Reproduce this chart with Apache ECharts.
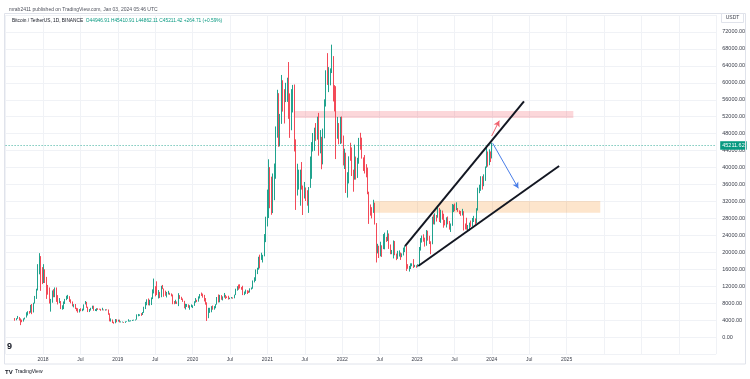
<!DOCTYPE html>
<html><head><meta charset="utf-8">
<script src="https://cdn.jsdelivr.net/npm/echarts@6/dist/echarts.min.js"></script>
<style>html,body{margin:0;padding:0;background:#fff}#c{width:750px;height:379px}</style>
</head><body><div id="c"></div>
<script>
// ---- DATA ----
const firstWeekStart = '2017-08-14';   // weekly candles, Monday starts
const firstOpen = 4261;
// each entry: [close, low, high]
const w2017 = [[4086,3850,4485],[4310,3950,4453],[4589,4300,4980],[4220,3900,4720],[3700,2817,4400],[3650,3500,4100],[4378,3650,4400],[4600,4150,4600],[5600,4600,5850],[6000,5100,6100],[5750,5500,6150],[7300,6000,7600],[5950,5400,7800],[8050,5800,8100],[9500,7900,9700],[11000,9000,11400],[15300,11000,17200],[19100,14800,19800],[13900,10900,19000],[13400,12500,16500]];
const w2018 = [[14000,12750,17200],[13600,12750,16000],[11500,9000,14200],[11450,10000,12300],[8200,7900,11700],[8500,6000,9000],[10600,8100,11000],[9600,9400,11300],[11500,9400,11700],[9100,8300,11700],[8200,7700,9900],[8500,8000,9200],[6900,6600,8500],[6900,6450,7500],[8000,6600,8400],[8900,7800,9000],[9350,8700,9750],[9600,9000,9950],[8700,8300,9650],[8250,7950,8900],[7350,7250,8400],[7500,7000,7750],[6700,6600,7800],[6450,6100,6900],[6050,5750,6800],[6600,5800,6600],[6350,6100,6800],[6350,6100,6700],[7700,6300,7700],[8200,7700,8500],[7000,6900,8300],[6300,5900,7150],[6400,5900,6600],[6700,6250,6900],[7300,6650,7400],[6300,6200,7400],[6500,6150,6600],[6700,6100,6800],[6600,6400,6800],[6550,6450,6700],[6300,6200,6650],[6450,6300,6900],[6350,6300,6500],[6450,6250,6550],[6350,6300,6550],[5550,5250,6500],[3800,3700,5600],[4100,3650,4400],[3550,3300,4150],[3250,3150,3600],[4000,3250,4250],[3750,3500,4200],[4000,3650,4100]];
const w2019 = [[3500,3450,4100],[3550,3450,3700],[3550,3450,3650],[3450,3350,3550],[3600,3350,3700],[3650,3550,3700],[3850,3650,4200],[3850,3650,3900],[3950,3700,3950],[4000,3800,4050],[4000,3900,4100],[4150,3900,4150],[5100,4100,5350],[5100,4900,5450],[5300,5000,5350],[5200,5000,5650],[5700,5200,5900],[6950,5700,7150],[8200,6600,8300],[8750,7500,8900],[8050,7500,9100],[8700,7450,8800],[8950,7550,9350],[10800,8950,11250],[11850,10300,13800],[11450,9600,12000],[10200,9900,13150],[10600,9100,11100],[9500,9200,10650],[11850,9400,12100],[11350,11300,12300],[10300,9500,11450],[10150,9750,10950],[10400,9350,10650],[10400,10050,10900],[10300,9950,10450],[9990,9600,10300],[8050,7750,10050],[7880,7750,8500],[8300,7850,8800],[8230,7800,8400],[9550,7300,10350],[9200,9000,9900],[8800,8750,9500],[8500,8300,9100],[7050,6800,8550],[7500,6500,7850],[7500,7100,7800],[7080,6900,7700],[7180,6450,7500],[7250,7050,7700],[7350,6850,7500]];
const w2020 = [[8180,7700,8450],[8650,8100,9200],[8350,8250,8800],[9350,8500,9600],[10150,9100,10150],[9900,9700,10500],[9650,9300,10250],[8550,8400,9950],[7950,7650,9200],[5350,3800,8200],[5800,4450,6900],[5900,5700,6900],[6850,5850,7300],[6650,6450,7450],[7150,6450,7300],[7700,6800,7750],[8900,7650,9450],[8700,8150,10050],[9680,8200,9950],[8900,8800,9900],[9450,8650,9600],[9750,9300,10400],[9350,9000,9950],[9300,9200,9600],[9050,8850,9750],[9100,8950,9300],[9250,9100,9450],[9200,9050,9350],[9950,9150,10000],[11100,9900,11400],[11900,10950,12000],[11800,11150,12400],[11650,11450,12450],[11600,11150,11800],[10300,9900,12100],[10700,9900,10750],[11050,10200,11200],[10750,10150,11050],[10650,10400,10950],[11400,10500,11500],[11500,11200,11700],[13050,11400,13350],[13750,12900,14100],[15500,13250,15950],[16050,14850,16350],[18700,15900,18950],[18200,16200,19450],[19150,18200,19900],[19250,17600,19400],[23850,19050,24300],[26450,22400,28400],[32200,26100,34800]];
const w2021 = [[38150,28100,41950],[36050,30400,40100],[32250,28850,37850],[33100,29250,38600],[38800,32300,40950],[48600,37350,49700],[57400,47050,58350],[45250,44900,57550],[51200,45000,52650],[59000,50300,61850],[57350,53200,60600],[55800,50400,58500],[57050,55450,60000],[60000,55500,61200],[56200,51500,64900],[49000,47000,57500],[56600,48800,58500],[58250,53000,59500],[46400,43800,59600],[34700,30000,46650],[35650,33400,40900],[35800,34800,39500],[39100,31000,39500],[35550,34800,41300],[34700,28800,35750],[35300,32700,36600],[34250,32100,35100],[31800,31000,34650],[35400,29300,35400],[39850,35200,42600],[43800,37350,46000],[47100,43800,48150],[49300,43950,49400],[48850,46300,50500],[51750,46600,52000],[46050,42800,52900],[47250,43350,48850],[43200,39600,45050],[48200,40750,49200],[54650,46900,56100],[61500,54400,62950],[60850,59500,67000],[61300,57800,63700],[63300,59400,63400],[65450,62300,69000],[58650,55600,66300],[57250,53250,59450],[49400,42000,59200],[50100,46800,51950],[46700,45500,50500],[50800,45550,51950],[47300,45700,52050]];
const w2022 = [[41850,40500,47550],[43100,39650,44450],[36250,34000,43500],[37900,32900,38900],[42400,36250,42650],[42200,41600,45850],[38400,38000,44750],[37700,34300,39500],[38400,37150,45400],[37800,37150,42600],[41300,37550,42300],[46800,40900,47000],[46400,44200,48200],[42150,42100,47050],[39700,39200,42400],[39450,38600,42950],[38450,37700,40800],[34300,33700,40000],[31300,26700,34250],[30300,28650,31300],[29450,28000,30650],[29900,29300,32400],[26600,26550,31700],[20550,17600,26900],[21050,19750,22000],[19300,18650,21550],[20850,19050,22500],[20800,18900,21650],[22600,20750,24300],[23300,20700,24650],[23150,22450,23650],[24300,22650,25200],[21500,20800,24450],[19550,19550,21850],[19950,19550,20550],[21800,18550,22800],[19400,19300,22650],[18800,18150,19700],[19300,18450,20350],[19450,19000,20450],[19150,18200,19950],[19550,18850,19750],[20600,19250,21100],[20900,20050,21500],[16350,15600,21450],[16300,16100,17200],[16450,15450,16800],[17100,16050,17400],[17100,16700,17400],[16750,16300,18400],[16850,16500,17050],[16600,16350,16950]];
const w2023 = [[17100,16500,17200],[20900,17150,21250],[22700,20400,23350],[23750,22300,23950],[22950,22500,24250],[21800,21350,23450],[24650,21550,25250],[23550,22750,25100],[22400,21950,23900],[22150,19550,22600],[28000,21900,28400],[27950,26600,28900],[28450,26550,29200],[28350,27250,28800],[30300,28150,31000],[27600,27150,30450],[29250,26950,30050],[28450,27700,29850],[26900,25800,29100],[26750,26350,27650],[28050,25850,28250],[27200,26600,28450],[25850,25350,27400],[26350,24800,26800],[30450,26250,31400],[30600,29500,31250],[30150,29700,31500],[30250,29950,31800],[29800,29550,30450],[29300,29000,29900],[29050,28600,29750],[29400,28700,30250],[26100,25150,29700],[26000,25400,26800],[25850,25350,28150],[25850,24900,26450],[26550,25100,27000],[26250,26000,27500],[27950,26150,28100],[27950,27150,28600],[26850,26550,28000],[29950,26850,30400],[34500,29850,35250],[35000,33950,35950],[37050,34500,37950],[36550,34800,37950],[37450,35600,38400],[39950,36850,40250],[43800,39950,44750],[41350,40200,43450],[43650,40550,44300],[42300,41300,43800]];
const w2024 = [[45211.42,42150,45850]];

// annotations: [fractional year, price]
const resistanceZone = [[2021.37, 51700], [2025.09, 53350]];
const supportZone    = [[2022.425, 29350], [2025.45, 32100]];
const upperTrend     = [[2022.84, 21480], [2024.43, 55620]];
const lowerTrend     = [[2023.017, 16760], [2024.90, 40370]];
const breakoutArrow  = [[2023.998, 47450], [2024.10, 51060]];
const declineArrow   = [[2024.012, 45730], [2024.355, 35100]];
const lastPrice = 45211.62;

const publishLine = 'mrab2411 published on TradingView.com, Jan 03, 2024 05:46 UTC';
const symbolLine = 'Bitcoin / TetherUS, 1D, BINANCE';
const ohlcLine = 'O44946.91 H45410.91 L44862.11 C45211.42 +264.71 (+0.59%)';
const currencyLabel = 'USDT';

// ---- BUILD ----
const DAY = 86400000;
function toYear(ms) {
  const d = new Date(ms), y = d.getUTCFullYear();
  const s = Date.UTC(y, 0, 1), e = Date.UTC(y + 1, 0, 1);
  return y + (ms - s) / (e - s);
}
const weeks = [].concat(w2017, w2018, w2019, w2020, w2021, w2022, w2023, w2024);
const t0 = Date.parse(firstWeekStart + 'T00:00:00Z');
const candles = [];
let prev = firstOpen;
weeks.forEach((w, i) => {
  const last = i === weeks.length - 1;
  const center = t0 + i * 7 * DAY + (last ? 1.5 : 3.5) * DAY;
  const o = prev, c = w[0];
  const lo = Math.min(w[1], o, c), hi = Math.max(w[2], o, c);
  candles.push([toYear(center), o, c, lo, hi]);
  prev = c;
});

const FONT = 'Liberation Sans';
const UP = '#089981', DOWN = '#f23645';
const chart = echarts.init(document.getElementById('c'), null, {renderer: 'canvas'});
const seg = (p, style, endSym) => [
  {coord: p[0], symbol: 'none', lineStyle: style},
  {coord: p[1], symbol: endSym || 'none', symbolSize: [5, 6]}
];
chart.setOption({
  animation: false,
  backgroundColor: '#ffffff',
  textStyle: {fontFamily: FONT},
  title: [
    {text: publishLine, left: 4, top: 2, textStyle: {fontSize: 5, color: '#50535e', fontWeight: 'normal', fontFamily: FONT}},
    {text: '{a|' + symbolLine + '}  {b|' + ohlcLine + '}', left: 7, top: 13,
      textStyle: {fontFamily: FONT, fontSize: 4.8, fontWeight: 'normal',
        rich: {a: {fontSize: 4.8, color: '#131722', fontFamily: FONT}, b: {fontSize: 4.8, color: UP, fontFamily: FONT}}}}
  ],
  grid: {left: 5.6, right: 33.8, top: 15, bottom: 25, containLabel: false},
  xAxis: {
    type: 'value', min: 2017.5, max: 2027, interval: 0.5,
    axisLine: {show: false}, axisTick: {show: false},
    splitLine: {show: true, lineStyle: {color: '#f0f2f6', width: 1}},
    axisLabel: {
      showMinLabel: false, showMaxLabel: false, margin: 3, fontSize: 5, color: '#3a3e4a', fontFamily: FONT,
      formatter: v => v > 2025.01 ? '' : (Math.abs(v - Math.round(v)) < 0.01 ? String(Math.round(v)) : 'Jul')
    }
  },
  yAxis: {
    type: 'value', position: 'right', min: -4000, max: 76000, interval: 4000,
    axisLine: {show: false}, axisTick: {show: false},
    splitLine: {show: true, lineStyle: {color: '#f0f2f6', width: 1}},
    axisLabel: {margin: 6, fontSize: 5.5, color: '#3a3e4a', fontFamily: FONT,
      formatter: v => (v < 0 || v > 72000) ? '' : v.toFixed(2)}
  },
  series: [{
    type: 'candlestick',
    data: candles,
    encode: {x: 0, y: [1, 2, 3, 4]},
    barWidth: 1,
    itemStyle: {color: UP, color0: DOWN, borderColor: UP, borderColor0: DOWN, borderWidth: 0.9},
    markArea: {
      silent: true,
      data: [
        [{coord: resistanceZone[0], itemStyle: {color: 'rgba(242,54,69,0.2)'}}, {coord: resistanceZone[1]}],
        [{coord: supportZone[0], itemStyle: {color: 'rgba(245,124,0,0.2)'}}, {coord: supportZone[1]}]
      ]
    },
    markLine: {
      silent: true, symbol: ['none', 'none'], label: {show: false}, animation: false,
      data: [
        {yAxis: lastPrice, symbol: 'none', lineStyle: {color: UP, type: [1, 2], width: 0.8},
          label: {show: true, position: 'end', distance: 4, formatter: lastPrice.toFixed(2), backgroundColor: UP,
            color: '#fff', fontSize: 5.5, fontFamily: FONT, padding: [1.5, 2, 1, 2]}},
        seg(upperTrend, {color: '#131722', width: 2, type: 'solid'}),
        seg(lowerTrend, {color: '#131722', width: 2, type: 'solid'}),
        seg(breakoutArrow, {color: '#f0626e', width: 1, type: 'solid'}, 'arrow'),
        seg(declineArrow, {color: '#4a7ee8', width: 1, type: 'solid'}, 'arrow')
      ]
    }
  }],
  graphic: [
    {type: 'rect', silent: true, z: 100, shape: {x: 4.5, y: 13.5, width: 741, height: 350.5},
      style: {fill: 'none', stroke: '#e0e3eb', lineWidth: 1}},
    {type: 'rect', silent: true, z: 101, shape: {x: 721.5, y: 13.5, width: 22, height: 9},
      style: {fill: '#fff', stroke: '#e0e3eb', lineWidth: 1}},
    {type: 'text', silent: true, z: 102, x: 732.5, y: 18,
      style: {text: currencyLabel, fontSize: 5, fill: '#3a3e4a', align: 'center', verticalAlign: 'middle', fontFamily: FONT}},
    {type: 'text', silent: true, z: 102, x: 7, y: 347,
      style: {text: '9', fontSize: 9, fontWeight: 'bold', fill: '#131722', verticalAlign: 'middle', fontFamily: FONT}},
    {type: 'text', silent: true, z: 102, x: 5, y: 372,
      style: {text: 'TV', fontSize: 6, fontWeight: 'bold', fill: '#131722', verticalAlign: 'middle', fontFamily: FONT}},
    {type: 'text', silent: true, z: 102, x: 15, y: 372,
      style: {text: 'TradingView', fontSize: 5, fill: '#131722', verticalAlign: 'middle', fontFamily: FONT}}
  ]
});
</script></body></html>
